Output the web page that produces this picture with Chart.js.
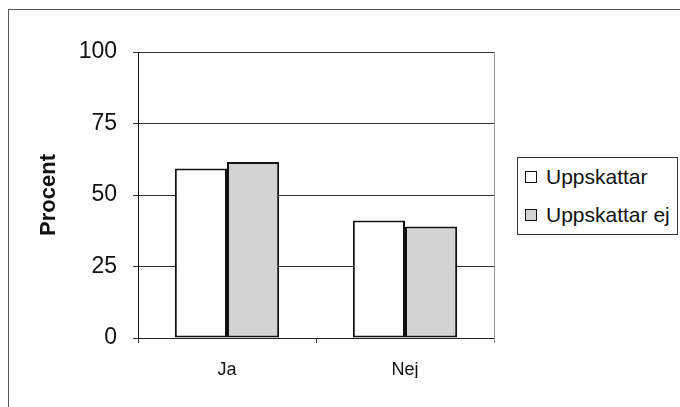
<!DOCTYPE html>
<html lang="sv">
<head>
  <meta charset="UTF-8" />
  <title>Procent – Uppskattar</title>
  <style>
    body { margin: 0; background: #fff; font-family: "Liberation Sans", Arial, sans-serif; }
    #wrap { position: relative; width: 680px; height: 407px; overflow: hidden; }
    #ram {
      position: absolute; left: 8px; top: 9px; width: 720px; height: 440px;
      border: 1px solid #555; box-sizing: border-box;
    }
    #graf { position: absolute; left: 0; top: 0; }
    #legend {
      position: absolute; left: 517px; top: 157px; width: 161px; height: 78px;
      border: 1px solid #333; box-sizing: border-box; background: #fff;
      padding: 0 0 0 7px;
    }
    .rad { display: flex; align-items: center; height: 38px; font-size: 21px; color: #111; }
    .ruta { width: 12px; height: 12px; border: 1.5px solid #111; margin-right: 9px; box-sizing: border-box; }
  </style>
</head>
<body>
  <div id="wrap">
    <div id="ram"></div>
    <canvas id="graf" width="680" height="407"></canvas>
    <div id="legend"></div>
  </div>

<script src="https://cdn.jsdelivr.net/npm/chart.js@4.4.0/dist/chart.umd.min.js"></script>
<script>
  // kategorier och värden (procent)
  const kategorier = ['Ja', 'Nej'];
  const uppskattar = [59.3, 41.1];
  const uppskattarEj = [61.5, 39.0];
  const yTicks = [0, 25, 50, 75, 100];

  const serier = [
    { label: 'Uppskattar', data: uppskattar, fyll: '#ffffff' },
    { label: 'Uppskattar ej', data: uppskattarEj, fyll: '#d3d3d3' }
  ];

  // högra kanten av diagramytan
  const kantPlugin = {
    id: 'kant',
    afterDraw(chart) {
      const { ctx, chartArea } = chart;
      ctx.save();
      ctx.strokeStyle = '#999';
      ctx.lineWidth = 1;
      ctx.beginPath();
      ctx.moveTo(chartArea.right + 0.5, chartArea.top);
      ctx.lineTo(chartArea.right + 0.5, chartArea.bottom + 5);
      ctx.stroke();
      ctx.restore();
    }
  };

  new Chart(document.getElementById('graf'), {
    type: 'bar',
    data: {
      labels: kategorier,
      datasets: serier.map(s => ({
        label: s.label,
        data: s.data,
        backgroundColor: s.fyll,
        borderColor: '#111',
        borderWidth: 2,
        borderSkipped: false,
        categoryPercentage: 0.586,
        barPercentage: 1
      }))
    },
    options: {
      responsive: false,
      animation: false,
      layout: { padding: { left: 10, right: 186, top: 52, bottom: 29 } },
      plugins: { legend: { display: false }, tooltip: { enabled: false } },
      scales: {
        x: {
          grid: { drawOnChartArea: false, drawTicks: true, tickLength: 5, color: '#333' },
          border: { color: '#222', width: 1 },
          ticks: { color: '#111', padding: 16, font: { family: 'Liberation Sans', size: 18 } },
          afterFit: s => { s.height = 40; }
        },
        y: {
          min: 0,
          max: 100,
          afterBuildTicks: s => { s.ticks = yTicks.map(v => ({ value: v })); },
          grid: { color: '#333', lineWidth: 1, tickLength: 5 },
          border: { color: '#111', width: 1 },
          ticks: { color: '#111', padding: 16, font: { family: 'Liberation Sans', size: 23 } },
          title: {
            display: true,
            text: 'Procent',
            color: '#111',
            padding: { top: 26, bottom: 0 },
            font: { family: 'Liberation Sans', size: 22, weight: 'bold' }
          },
          afterFit: s => { s.width = 128; }
        }
      }
    },
    plugins: [kantPlugin]
  });

  // legend i ruta
  const legend = document.getElementById('legend');
  serier.forEach(s => {
    const rad = document.createElement('div');
    rad.className = 'rad';
    rad.innerHTML = `<span class="ruta" style="background:${s.fyll}"></span><span>${s.label}</span>`;
    legend.appendChild(rad);
  });
</script>
</body>
</html>
